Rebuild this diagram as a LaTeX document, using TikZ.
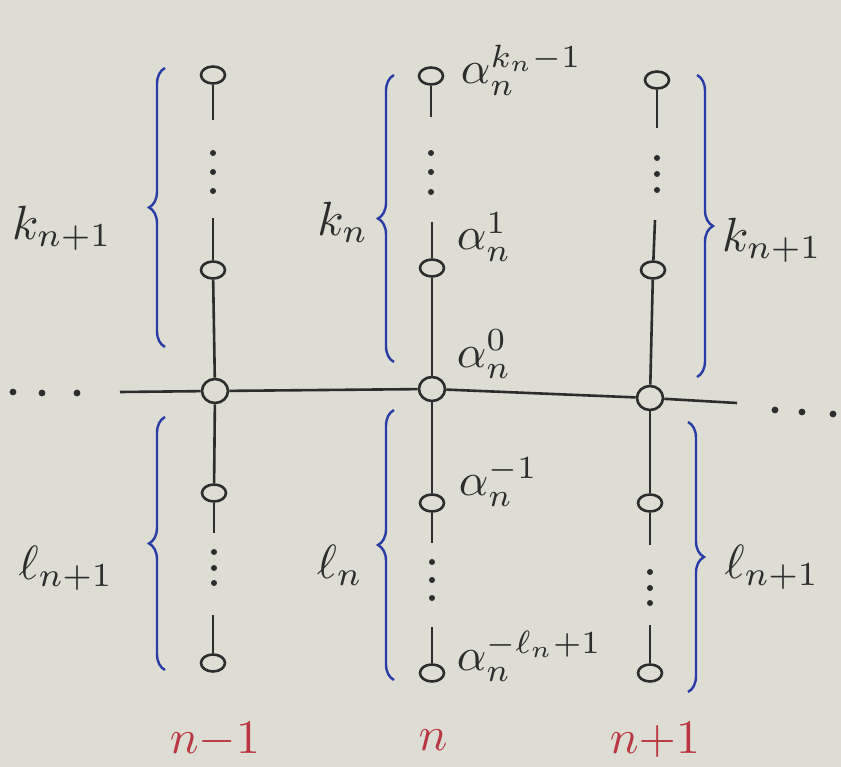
\documentclass[tikz,border=0pt]{standalone}
\usetikzlibrary{shapes.geometric,decorations.pathreplacing}
\definecolor{bg}{RGB}{221,221,211}
\definecolor{ink}{RGB}{45,45,45}
\definecolor{bl}{RGB}{40,60,165}
\definecolor{rd}{RGB}{185,55,65}
\tikzset{
  vert/.style={ellipse,draw=ink,fill=bg,line width=2.6pt,minimum width=24pt,minimum height=17pt,inner sep=0pt},
  junc/.style={ellipse,draw=ink,fill=bg,line width=2.6pt,minimum width=26pt,minimum height=24pt,inner sep=0pt},
  wire/.style={ink,line width=2.6pt},
  dotty/.style={fill=ink},
  brc/.style={bl,line width=2.4pt,decorate,decoration={brace,amplitude=16pt}},
  lab/.style={ink,scale=4.8,inner sep=0pt},
  alab/.style={ink,scale=4.6,inner sep=0pt,anchor=base west},
  clab/.style={rd,scale=4.8,inner sep=0pt}
}
\begin{document}
\begin{tikzpicture}[x=1pt,y=-1pt]
\fill[bg] (0,0) rectangle (841,767);
\useasboundingbox (0,0) rectangle (841,767);

% column n-1
\node[vert] (A3) at (213,75) {};
\coordinate (A3e) at (213,120);
\coordinate (A1s) at (213,218);
\node[vert] (A1) at (213,270) {};
\node[junc] (A0) at (215,391) {};
\node[vert] (Am1) at (214,493) {};
\coordinate (Am1e) at (214,533);
\coordinate (Am2s) at (213,615);
\node[vert] (Am2) at (213,663) {};
% column n
\node[vert] (B3) at (431,76) {};
\coordinate (B3e) at (431,117);
\coordinate (B1s) at (432,222);
\node[vert] (B1) at (432,268) {};
\node[junc] (B0) at (432,389) {};
\node[vert] (Bm1) at (432,503) {};
\coordinate (Bm1e) at (432,543);
\coordinate (Bm2s) at (432,627);
\node[vert] (Bm2) at (432,673) {};
% column n+1
\node[vert] (C3) at (657,80) {};
\coordinate (C3e) at (657,128);
\coordinate (C1s) at (655,220);
\node[vert] (C1) at (653,270) {};
\node[junc] (C0) at (650,398) {};
\node[vert] (Cm1) at (650,503) {};
\coordinate (Cm1e) at (650,545);
\coordinate (Cm2s) at (650,625);
\node[vert] (Cm2) at (650,673) {};
% horizontal line
\coordinate (L) at (120,392);
\coordinate (R) at (737,403);

\draw[wire] (L) -- (A0);
\draw[wire] (A0) -- (B0);
\draw[wire] (B0) -- (C0);
\draw[wire] (C0) -- (R);

\draw[wire] (A3) -- (A3e);
\draw[wire] (A1s) -- (A1);
\draw[wire] (A1) -- (A0);
\draw[wire] (A0) -- (Am1);
\draw[wire] (Am1) -- (Am1e);
\draw[wire] (Am2s) -- (Am2);

\draw[wire] (B3) -- (B3e);
\draw[wire] (B1s) -- (B1);
\draw[wire] (B1) -- (B0);
\draw[wire] (B0) -- (Bm1);
\draw[wire] (Bm1) -- (Bm1e);
\draw[wire] (Bm2s) -- (Bm2);

\draw[wire] (C3) -- (C3e);
\draw[wire] (C1s) -- (C1);
\draw[wire] (C1) -- (C0);
\draw[wire] (C0) -- (Cm1);
\draw[wire] (Cm1) -- (Cm1e);
\draw[wire] (Cm2s) -- (Cm2);

% vertical dots
\foreach \y in {153,172,191} \fill[dotty] (213,\y) circle (3);
\foreach \y in {552,568,583} \fill[dotty] (214,\y) circle (3);
\foreach \y in {153,172,192} \fill[dotty] (431,\y) circle (3);
\foreach \y in {562,580,598} \fill[dotty] (432,\y) circle (3);
\foreach \y in {158,174,190} \fill[dotty] (657,\y) circle (3);
\foreach \y in {572,588,603} \fill[dotty] (650,\y) circle (3);
% horizontal dots
\foreach \x/\y in {13/392,42/393,77/393,775/410,802/412,833/414} \fill[dotty] (\x,\y) circle (3.4);

% braces
\draw[brc] (165,347) -- (165,68);
\draw[brc] (165,670) -- (165,417);
\draw[brc] (394,362) -- (394,75);
\draw[brc] (394,680) -- (394,410);
\draw[brc] (697,75) -- (697,377);
\draw[brc] (688,422) -- (688,692);

% brace labels
\node[lab] (kl) at (62,228) {$k_{n+1}$};
\node[lab] (kn) at (343,222) {$k_n$};
\node[lab] (kr) at (772,240) {$k_{n+1}$};
\node[lab] (ll) at (66,568) {$\ell_{n+1}$};
\node[lab] (ln) at (340,565) {$\ell_n$};
\node[lab] (lr) at (772,567) {$\ell_{n+1}$};

% alpha labels
\node[alab] (a3) at (460,84) {$\alpha_n^{k_n-1}$};
\node[alab] (a1) at (456,250) {$\alpha_n^{1}$};
\node[alab] (a0) at (456,367) {$\alpha_n^{0}$};
\node[alab] (am1) at (458,495) {$\alpha_n^{-1}$};
\node[alab] (am2) at (456,670) {$\alpha_n^{-\ell_n+1}$};

% column labels
\node[clab] (cA) at (215,740) {$n{-}1$};
\node[clab] (cB) at (433,740) {$n$};
\node[clab] (cC) at (655,740) {$n{+}1$};
\end{tikzpicture}
\end{document}
